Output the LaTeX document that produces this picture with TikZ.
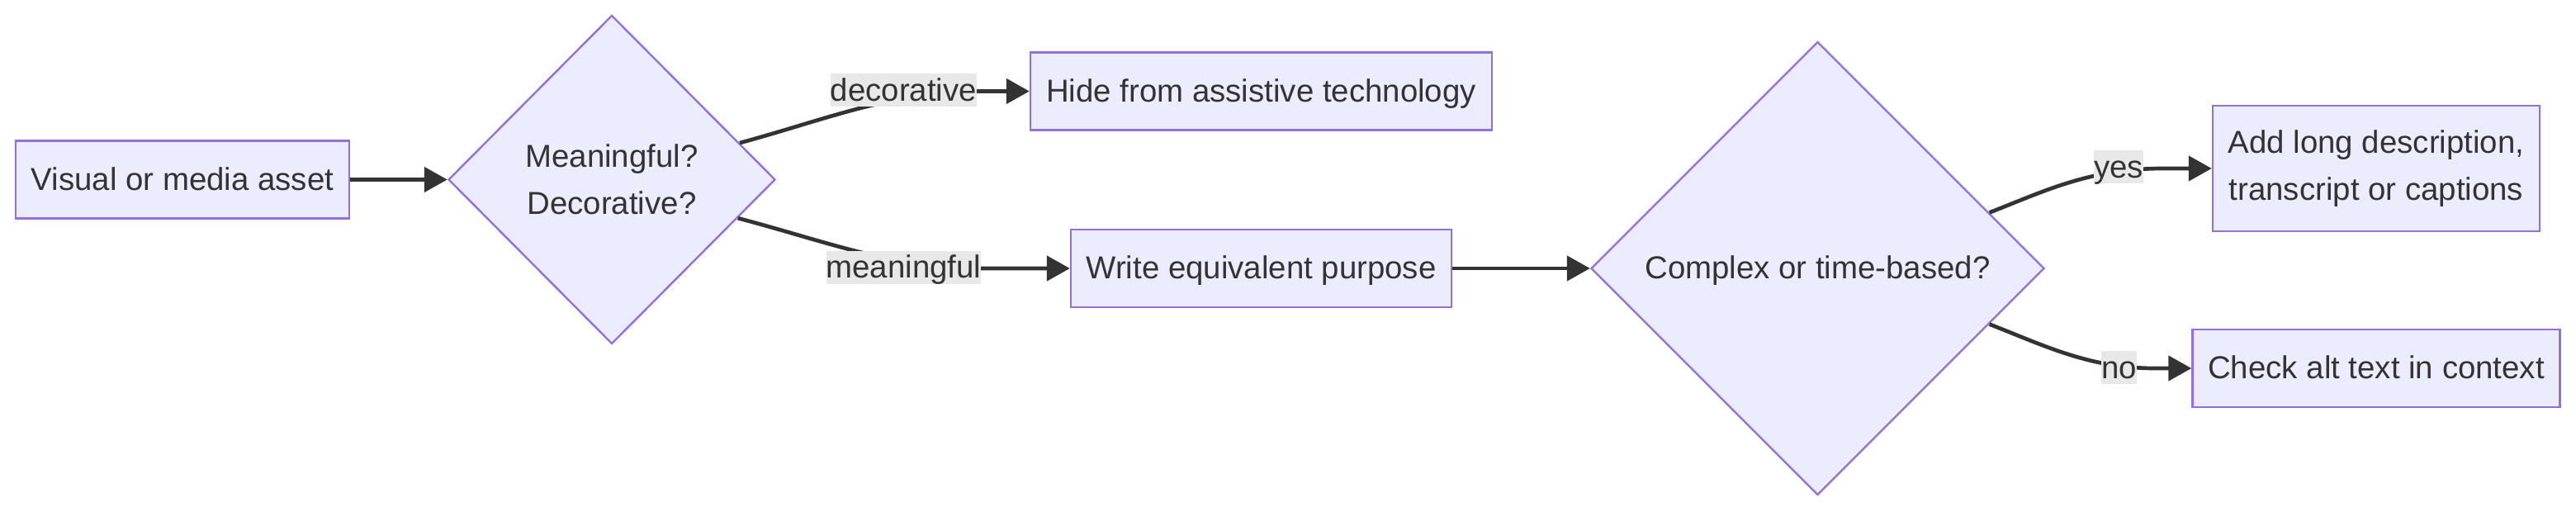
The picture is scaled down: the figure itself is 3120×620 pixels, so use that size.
\documentclass[tikz,border=0pt]{standalone}
\usepackage{fontspec}
\setmainfont{Liberation Sans}
\usetikzlibrary{arrows.meta,shapes.geometric}
\definecolor{nodefill}{HTML}{ECECFF}
\definecolor{nodeline}{HTML}{9370DB}
\definecolor{edgecol}{HTML}{333333}
\definecolor{txt}{HTML}{333333}
\definecolor{lblfill}{HTML}{E8E8E8}
\begin{document}
\begin{tikzpicture}[x=0.5pt,y=-0.5pt,
  every node/.style={font=\fontsize{19.2}{28.4}\selectfont, text=txt},
  box/.style={draw=nodeline, fill=nodefill, line width=1.2pt, rectangle, inner sep=0pt, align=center},
  oneline/.style={text height=13.6pt, text depth=1pt},
  decision/.style={draw=nodeline, fill=nodefill, line width=1.2pt, diamond, aspect=1, inner sep=0pt, align=center},
  edge/.style={draw=edgecol, line width=2.35pt, -{Triangle[length=14pt,width=15pt]}},
  lbl/.style={fill=lblfill, inner xsep=0pt, inner ysep=0pt, minimum height=20pt, text height=16.6pt, text depth=3.4pt}
]
\useasboundingbox (0,0) rectangle (3120,620);
\node[box, oneline, minimum width=202pt, minimum height=47pt] (A) at (221,217.5) {Visual or media asset};
\node[decision, minimum width=198pt, minimum height=199pt] (D1) at (741,217.5) {Meaningful?\\Decorative?};
\node[box, oneline, minimum width=279.5pt, minimum height=47pt] (Hide) at (1527.5,110.5) {Hide from assistive technology};
\node[box, oneline, minimum width=230.5pt, minimum height=47pt] (Write) at (1527.5,325) {Write equivalent purpose};
\node[decision, oneline, minimum width=274.5pt, minimum height=274.5pt] (D2) at (2201.5,325) {Complex or time-based?};
\node[box, minimum width=198pt, minimum height=76pt] (Add) at (2878,204) {Add long description,\\transcript or captions};
\node[box, oneline, minimum width=222.5pt, minimum height=47pt] (Check) at (2878,446) {Check alt text in context};

\draw[edge] (A.east) -- (D1.west);
\draw[edge] (D1.16) .. controls (1000,145) and (1080,110.5) .. (1190,110.5) -- (Hide.west);
\draw[edge] (D1.-17) .. controls (1000,292) and (1080,325) .. (1190,325) -- (Write.west);
\draw[edge] (Write.east) -- (D2.west);
\draw[edge] (D2.18) .. controls (2475,232) and (2530,204) .. (2620,204) -- (Add.west);
\draw[edge] (D2.-18) .. controls (2475,418) and (2530,446) .. (2610,446) -- (Check.west);

\node[lbl] (L1) at (1094.5,109.5) {decorative};
\node[lbl] (L2) at (1094.5,323.5) {meaningful};
\node[lbl] (L3) at (2566,202.5) {yes};
\node[lbl] (L4) at (2566.5,445) {no};
\end{tikzpicture}
\end{document}
